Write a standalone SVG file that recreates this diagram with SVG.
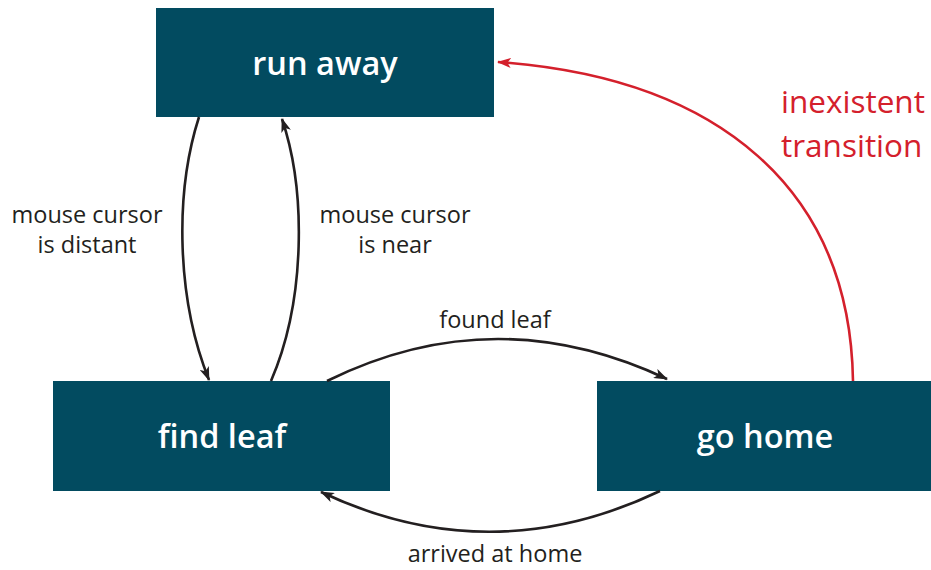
<svg xmlns="http://www.w3.org/2000/svg" width="931" height="570" viewBox="0 0 931 570">
  <style>
    .state rect { fill: #024b60; }
    .state text { fill: #ffffff; font-family: "Open Sans", "Noto Sans", sans-serif; font-weight: 600; font-size: 32.5px; text-anchor: middle; }
    .edge { fill: none; stroke: #231f20; stroke-width: 2.6; }
    .edge.red { stroke: #d4202c; }
    .lbl { fill: #231f20; font-family: "Open Sans", "Noto Sans", sans-serif; font-size: 23.5px; text-anchor: middle; }
    .lbl.red { fill: #d4202c; font-size: 31.5px; text-anchor: start; }
  </style>
  <defs>
    <marker id="arrow" viewBox="0 0 14 10" refX="13" refY="5" markerWidth="14" markerHeight="10" markerUnits="userSpaceOnUse" orient="auto">
      <path d="M0,0 L14,5 L0,10 L3.5,5 Z" fill="#231f20"/>
    </marker>
    <marker id="arrow-red" viewBox="0 0 14 10" refX="13" refY="5" markerWidth="14" markerHeight="10" markerUnits="userSpaceOnUse" orient="auto">
      <path d="M0,0 L14,5 L0,10 L3.5,5 Z" fill="#d4202c"/>
    </marker>
  </defs>

  <g id="run-away" class="state">
    <rect x="156" y="8" width="338" height="109"/>
    <text x="325" y="75">run away</text>
  </g>
  <g id="find-leaf" class="state">
    <rect x="53" y="381" width="337" height="110"/>
    <text x="222" y="448">find leaf</text>
  </g>
  <g id="go-home" class="state">
    <rect x="597" y="381" width="334" height="110"/>
    <text x="765" y="448">go home</text>
  </g>

  <g id="connectors">
    <path class="edge" d="M199,117 C174,195 177,300 209,380" marker-end="url(#arrow)"/>
    <path class="edge" d="M271,381 C306,300 306,190 282,119" marker-end="url(#arrow)"/>
    <path class="edge" d="M327,381 Q495,298 667,379" marker-end="url(#arrow)"/>
    <path class="edge" d="M660,491 Q490,572 321,492" marker-end="url(#arrow)"/>
    <path class="edge red" d="M853,381 C850,190 720,78 498,62" marker-end="url(#arrow-red)"/>
  </g>

  <g id="labels">
    <text class="lbl" x="87" y="223">mouse cursor</text>
    <text class="lbl" x="87" y="253">is distant</text>
    <text class="lbl" x="395" y="223">mouse cursor</text>
    <text class="lbl" x="395" y="253">is near</text>
    <text class="lbl" x="495" y="328">found leaf</text>
    <text class="lbl" x="495" y="562">arrived at home</text>
    <text class="lbl red" x="781" y="113">inexistent</text>
    <text class="lbl red" x="781" y="157">transition</text>
  </g>
</svg>
